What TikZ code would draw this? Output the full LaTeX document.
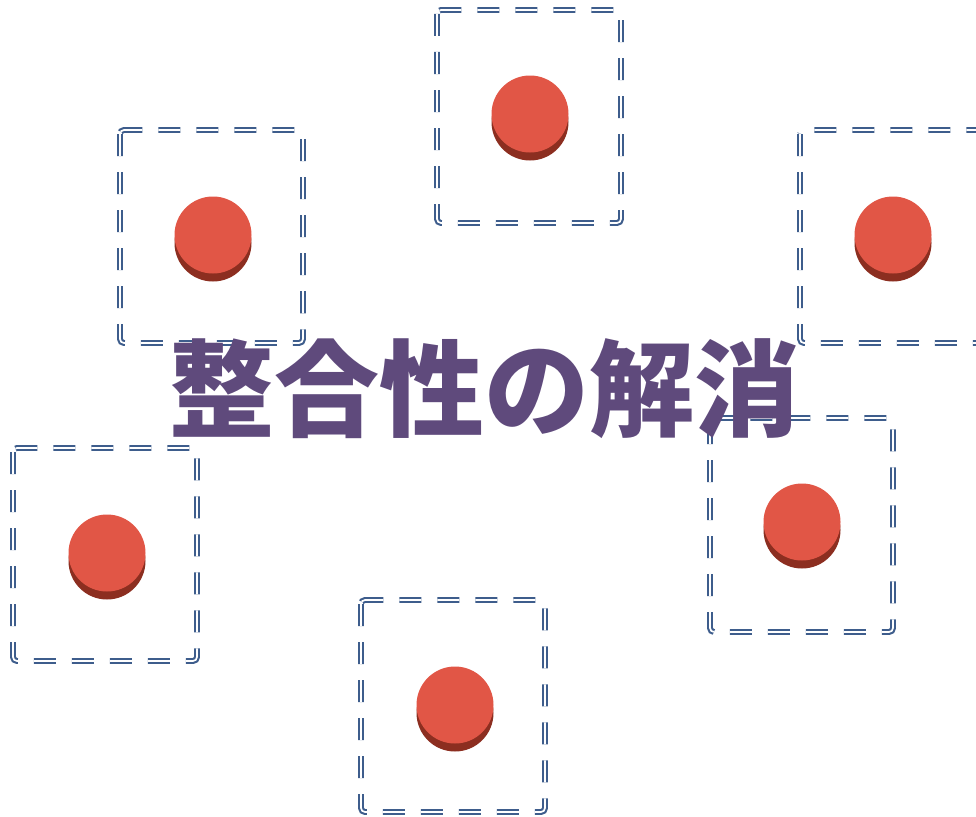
\documentclass[tikz,border=0pt]{standalone}
\usepackage{fontspec}
\newfontfamily\cjk{Noto Sans CJK JP}
\definecolor{boxblue}{RGB}{62,93,140}
\definecolor{dotface}{RGB}{225,86,70}
\definecolor{dotside}{RGB}{140,46,32}
\definecolor{titlepurple}{RGB}{95,74,124}
\tikzset{
  dashbox/.style={draw=boxblue, line width=2.1pt, double=white, double distance=1.7pt,
    dash pattern=on 22pt off 16pt, rounded corners=4pt},
  dotside/.style={circle, fill=dotside, minimum size=77pt, inner sep=0pt},
  dotface/.style={circle, fill=dotface, minimum size=77pt, inner sep=0pt},
}
\newcommand{\dashedbox}[4]{\draw[dashbox] (#1,#2) -- (#1,#4) -- (#3,#4) -- (#3,#2) -- cycle;}
\begin{document}
\begin{tikzpicture}[x=1pt,y=-1pt]
\useasboundingbox (0,0) rectangle (976,816);
\clip (0,0) rectangle (976,816);
% boxes
\dashedbox{437}{10}{621}{223}
\dashedbox{120}{130}{303}{343}
\dashedbox{800}{130}{990}{343}
\dashedbox{13}{448}{197}{661}
\dashedbox{361}{600}{545}{812}
\dashedbox{710}{418}{893}{632}
% dots
\foreach \n/\x/\y in {a/530/114, b/213/235, c/893/235, d/107/553, e/455/705, f/802/522}{
  \node[dotside] (\n s) at (\x,\y+8) {};
  \node[dotface] (\n) at (\x,\y) {};
}
% title
\node[text=titlepurple, font=\cjk\bfseries\fontsize{105}{110}\selectfont, inner sep=0pt] (title) at (484,389) {整合性の解消};
\end{tikzpicture}
\end{document}
